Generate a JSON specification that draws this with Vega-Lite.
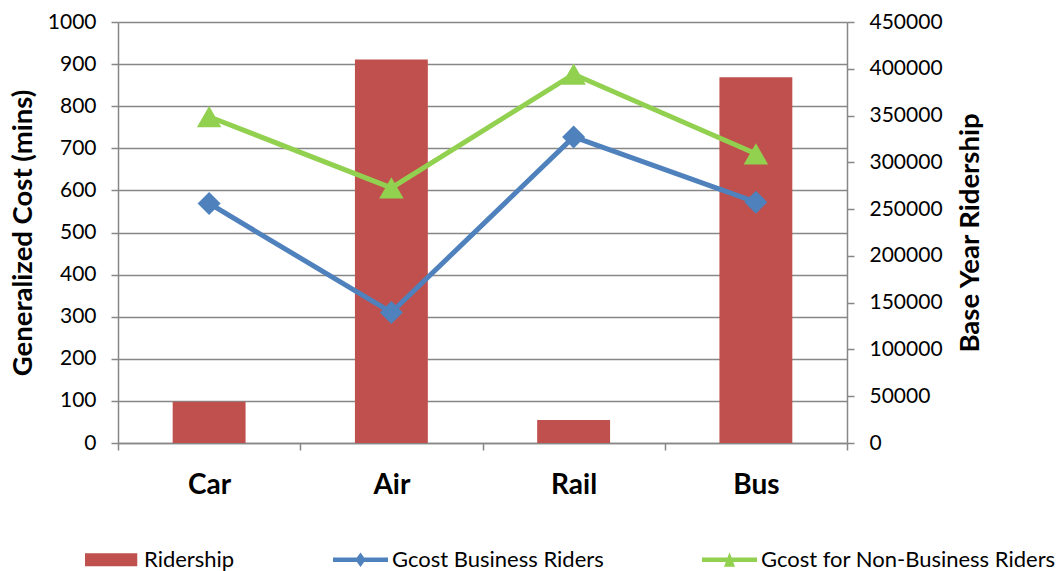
{
  "$schema": "https://vega.github.io/schema/vega-lite/v6.json",
  "width": 729,
  "height": 421,
  "autosize": {"type": "none"},
  "padding": {"left": 118, "top": 22, "right": 211, "bottom": 128},
  "config": {"view": {"stroke": null}, "font": "Lato"},
  "datasets": {
    "ridership": [
      {"mode": "Car", "series": "Ridership", "riders": 44000},
      {"mode": "Air", "series": "Ridership", "riders": 410000},
      {"mode": "Rail", "series": "Ridership", "riders": 24500},
      {"mode": "Bus", "series": "Ridership", "riders": 391000}
    ],
    "gcost": [
      {"mode": "Car", "series": "Gcost Business Riders", "cost": 569},
      {"mode": "Air", "series": "Gcost Business Riders", "cost": 310},
      {"mode": "Rail", "series": "Gcost Business Riders", "cost": 727},
      {"mode": "Bus", "series": "Gcost Business Riders", "cost": 572},
      {"mode": "Car", "series": "Gcost for Non-Business Riders", "cost": 775},
      {"mode": "Air", "series": "Gcost for Non-Business Riders", "cost": 606},
      {"mode": "Rail", "series": "Gcost for Non-Business Riders", "cost": 876},
      {"mode": "Bus", "series": "Gcost for Non-Business Riders", "cost": 687}
    ]
  },
  "encoding": {
    "x": {
      "field": "mode",
      "type": "nominal",
      "sort": ["Car", "Air", "Rail", "Bus"],
      "scale": {"paddingInner": 0, "paddingOuter": 0},
      "axis": {
        "title": null,
        "labelAngle": 0,
        "labelFontSize": 28,
        "labelFontWeight": "bold",
        "labelColor": "#000000",
        "labelPadding": 21,
        "tickBand": "extent",
        "tickSize": 7,
        "tickColor": "#878787",
        "tickWidth": 1.5,
        "domainColor": "#878787",
        "domainWidth": 1.5
      }
    }
  },
  "layer": [
    {
      "data": {"name": "ridership"},
      "mark": {"type": "bar", "width": {"band": 0.4}},
      "encoding": {
        "y": {
          "field": "riders",
          "type": "quantitative",
          "scale": {"domain": [0, 450000], "nice": false},
          "axis": {
            "orient": "right",
            "title": "Base Year Ridership",
            "titleAngle": 270,
            "values": [0, 50000, 100000, 150000, 200000, 250000, 300000, 350000, 400000, 450000],
            "format": "d",
            "grid": false,
            "domainColor": "#878787",
            "domainWidth": 1.5,
            "tickColor": "#878787",
            "tickWidth": 1.5,
            "tickSize": 7,
            "labelFontSize": 21,
            "labelColor": "#000000",
            "labelPadding": 15,
            "titleFontSize": 27.5,
            "titleFontWeight": "bold",
            "titleColor": "#000000",
            "titlePadding": 42
          }
        },
        "color": {
          "field": "series",
          "type": "nominal",
          "scale": {
            "domain": ["Ridership", "Gcost Business Riders", "Gcost for Non-Business Riders"],
            "range": ["#C0504D", "#4F81BD", "#92D050"]
          },
          "legend": {
            "title": null,
            "orient": "none",
            "direction": "horizontal",
            "legendX": -33,
            "legendY": 510,
            "padding": 0,
            "columnPadding": 98,
            "labelOffset": 4,
            "labelFontSize": 22,
            "labelColor": "#000000",
            "labelLimit": 500,
            "symbolSize": 3025,
            "symbolStrokeWidth": 0,
            "symbolOpacity": 1,
            "symbolFillColor": {"expr": "scale('color', datum.value)"},
            "symbolType": {"expr": "datum.value == 'Ridership' ? 'M-1,-0.24H0.9V0.24H-1Z' : datum.value == 'Gcost Business Riders' ? 'M-1,-0.08H1V0.08H-1Z M0,-0.26L0.19,0L0,0.26L-0.19,0Z' : 'M-1,-0.08H1V0.08H-1Z M0,-0.27L0.2,0.25H-0.2Z'"}
          }
        }
      }
    },
    {
      "data": {"name": "gcost"},
      "encoding": {
        "y": {
          "field": "cost",
          "type": "quantitative",
          "scale": {"domain": [0, 1000], "nice": false},
          "axis": {
            "orient": "left",
            "title": "Generalized Cost (mins)",
            "values": [0, 100, 200, 300, 400, 500, 600, 700, 800, 900, 1000],
            "format": "d",
            "grid": true,
            "gridColor": "#878787",
            "gridWidth": 1.5,
            "domainColor": "#878787",
            "domainWidth": 1.5,
            "tickColor": "#878787",
            "tickWidth": 1.5,
            "tickSize": 7,
            "labelFontSize": 21,
            "labelColor": "#000000",
            "labelPadding": 15,
            "titleFontSize": 27.5,
            "titleFontWeight": "bold",
            "titleColor": "#000000",
            "titlePadding": 10
          }
        },
        "color": {"field": "series", "type": "nominal"}
      },
      "layer": [
        {"mark": {"type": "line", "strokeWidth": 5}},
        {
          "mark": {"type": "point", "filled": true, "opacity": 1},
          "encoding": {
            "shape": {
              "field": "series",
              "type": "nominal",
              "scale": {
                "domain": ["Gcost Business Riders", "Gcost for Non-Business Riders"],
                "range": ["diamond", "triangle-up"]
              },
              "legend": null
            },
            "size": {
              "field": "series",
              "type": "nominal",
              "scale": {
                "domain": ["Gcost Business Riders", "Gcost for Non-Business Riders"],
                "range": [529, 600]
              },
              "legend": null
            }
          }
        }
      ]
    }
  ],
  "resolve": {"scale": {"y": "independent"}}
}
